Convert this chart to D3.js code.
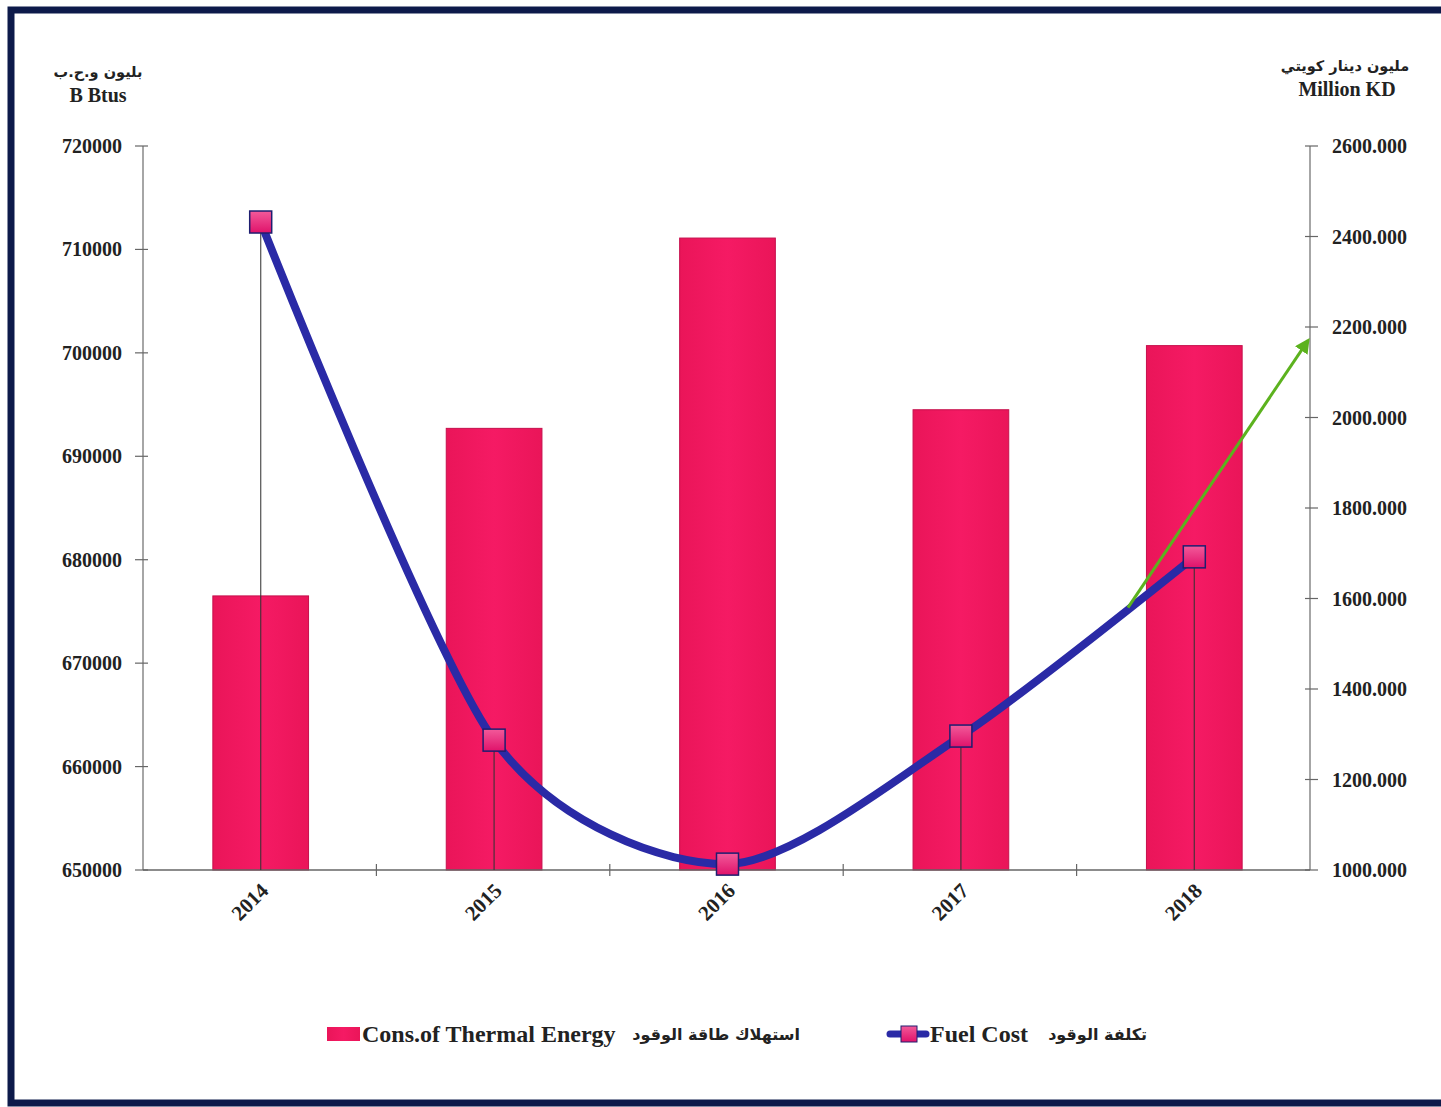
<!DOCTYPE html>
<html><head><meta charset="utf-8">
<script src="https://cdn.jsdelivr.net/npm/d3@7"></script>
<style>
html,body{margin:0;padding:0;background:#fff;}
svg{display:block;}
text{font-family:"Liberation Serif","Times New Roman",serif;font-weight:bold;fill:#222;}
.ar{font-family:"DejaVu Sans","Noto Sans",sans-serif;}
</style></head>
<body>
<script>
// ---- data ----
const years = ["2014","2015","2016","2017","2018"];
const thermalEnergy = [676500, 692700, 711100, 694500, 700700]; // B Btus (left axis)
const fuelCost = [2432, 1287, 1013, 1296, 1692];                // Million KD (right axis)
const leftTicks = [650000,660000,670000,680000,690000,700000,710000,720000];
const rightTicks = [1000,1200,1400,1600,1800,2000,2200,2400,2600];
const arrowStartValue = 1580, arrowEndValue = 2170; // trend arrow (right axis values)

const W = 1441, H = 1107;
const svg = d3.select("body").append("svg").attr("width", W).attr("height", H);

const defs = svg.append("defs");
const bg = defs.append("linearGradient").attr("id","barGrad").attr("x1",0).attr("x2",1).attr("y1",0).attr("y2",0);
bg.append("stop").attr("offset","0%").attr("stop-color","#ea1559");
bg.append("stop").attr("offset","50%").attr("stop-color","#f51a64");
bg.append("stop").attr("offset","100%").attr("stop-color","#ea1559");
const mg = defs.append("linearGradient").attr("id","mkGrad").attr("x1",0).attr("x2",0).attr("y1",0).attr("y2",1);
mg.append("stop").attr("offset","0%").attr("stop-color","#f25a9a");
mg.append("stop").attr("offset","100%").attr("stop-color","#e0126a");
defs.append("marker").attr("id","arrowHead").attr("viewBox","0 0 10 10").attr("refX",8).attr("refY",5)
  .attr("markerWidth",5).attr("markerHeight",5).attr("orient","auto")
  .append("path").attr("d","M0,0 L10,5 L0,10 z").attr("fill","#5cb21e");

// frame
svg.append("rect").attr("x",11).attr("y",10).attr("width",W+20).attr("height",1093)
  .attr("fill","#fff").attr("stroke","#0d1a4a").attr("stroke-width",7);

const L = 143, R = 1310, T = 146, B = 870;
const x = d3.scaleBand().domain(years).range([L, R]);
const yL = d3.scaleLinear().domain([650000, 720000]).range([B, T]);
const yR = d3.scaleLinear().domain([1000, 2600]).range([B, T]);

// axes lines
const axisColor = "#888";
svg.append("line").attr("x1",L).attr("x2",L).attr("y1",T).attr("y2",B).attr("stroke",axisColor).attr("stroke-width",1.5);
svg.append("line").attr("x1",R).attr("x2",R).attr("y1",T).attr("y2",B).attr("stroke",axisColor).attr("stroke-width",1.5);

// bars
const bw = x.bandwidth()*0.41;
svg.selectAll("rect.bar").data(years).join("rect").attr("class","bar")
  .attr("x", d => x(d) + x.bandwidth()/2 - bw/2 + 1)
  .attr("width", bw)
  .attr("y", (d,i) => yL(thermalEnergy[i]))
  .attr("height", (d,i) => B - yL(thermalEnergy[i]))
  .attr("fill","url(#barGrad)").attr("stroke","#c60f4c").attr("stroke-width",1);

// x axis line
svg.append("line").attr("x1",L).attr("x2",R).attr("y1",B).attr("y2",B).attr("stroke","#666").attr("stroke-width",1.5);
svg.selectAll("line.xt").data(years.slice(1)).join("line").attr("class","xt")
  .attr("x1", d => x(d)).attr("x2", d => x(d)).attr("y1", B-6).attr("y2", B+6)
  .attr("stroke","#666").attr("stroke-width",1.2);

// left ticks
svg.selectAll("line.lt").data(leftTicks).join("line").attr("class","lt")
  .attr("x1",L-8).attr("x2",L+5).attr("y1",d=>yL(d)).attr("y2",d=>yL(d)).attr("stroke","#666").attr("stroke-width",1.2);
svg.selectAll("text.ll").data(leftTicks).join("text").attr("class","ll")
  .attr("x",L-21).attr("y",d=>yL(d)).attr("dy","0.35em").attr("text-anchor","end")
  .attr("font-size",20).text(d=>d3.format("d")(d));
// right ticks
svg.selectAll("line.rt").data(rightTicks).join("line").attr("class","rt")
  .attr("x1",R-5).attr("x2",R+8).attr("y1",d=>yR(d)).attr("y2",d=>yR(d)).attr("stroke","#666").attr("stroke-width",1.2);
svg.selectAll("text.rl").data(rightTicks).join("text").attr("class","rl")
  .attr("x",R+22).attr("y",d=>yR(d)).attr("dy","0.35em").attr("text-anchor","start")
  .attr("font-size",20).text(d=>d3.format(".3f")(d));

// x labels
svg.selectAll("text.xl").data(years).join("text").attr("class","xl")
  .attr("transform", d => `translate(${x(d)+x.bandwidth()/2+10},${B+22}) rotate(-45)`)
  .attr("text-anchor","end").attr("font-size",21).attr("fill","#333").text(d=>d);

// drop lines
const cx = d => x(d) + x.bandwidth()/2 + 1;
svg.selectAll("line.drop").data(years).join("line").attr("class","drop")
  .attr("x1",cx).attr("x2",cx).attr("y1",(d,i)=>yR(fuelCost[i])).attr("y2",B)
  .attr("stroke","#333").attr("stroke-width",1.3).attr("stroke-opacity",0.8);

// line
const pts = years.map((d,i)=>[cx(d), yR(fuelCost[i])]);
svg.append("path").attr("d", d3.line().curve(d3.curveCardinal.tension(0.2))(pts))
  .attr("fill","none").attr("stroke","#2a2aa6").attr("stroke-width",8).attr("stroke-linecap","round");

// markers
const ms = 22;
svg.selectAll("rect.mk").data(pts).join("rect").attr("class","mk")
  .attr("x",d=>d[0]-ms/2).attr("y",d=>d[1]-ms/2).attr("width",ms).attr("height",ms)
  .attr("fill","url(#mkGrad)").attr("stroke","#1e1e70").attr("stroke-width",1.5);

// trend arrow
const ax1 = x("2018") + x.bandwidth()/2 - x.bandwidth()*0.28;
svg.append("line").attr("x1",ax1).attr("y1",yR(arrowStartValue)).attr("x2",R-2).attr("y2",yR(arrowEndValue))
  .attr("stroke","#5cb21e").attr("stroke-width",3).attr("marker-end","url(#arrowHead)");

// axis titles
svg.append("text").attr("class","ar").attr("x",98).attr("y",77).attr("text-anchor","middle").attr("font-size",14.5).text("بليون و.ح.ب");
svg.append("text").attr("x",98).attr("y",102).attr("text-anchor","middle").attr("font-size",20).text("B Btus");
svg.append("text").attr("class","ar").attr("x",1345).attr("y",71).attr("text-anchor","middle").attr("font-size",14.5).text("مليون دينار كويتي");
svg.append("text").attr("x",1347).attr("y",96).attr("text-anchor","middle").attr("font-size",20).text("Million KD");

// legend
const lg = svg.append("g");
lg.append("rect").attr("x",327).attr("y",1027).attr("width",33).attr("height",14).attr("fill","url(#barGrad)");
lg.append("text").attr("x",362).attr("y",1034).attr("dy","0.35em").attr("font-size",24).text("Cons.of Thermal Energy");
lg.append("text").attr("class","ar").attr("x",800).attr("y",1034).attr("dy","0.35em").attr("text-anchor","end").attr("font-size",16).text("استهلاك طاقة الوقود");
lg.append("line").attr("x1",890).attr("x2",926).attr("y1",1034).attr("y2",1034).attr("stroke","#2a2aa6").attr("stroke-width",7).attr("stroke-linecap","round");
lg.append("rect").attr("x",901).attr("y",1026).attr("width",16).attr("height",16).attr("fill","url(#mkGrad)").attr("stroke","#1e1e70");
lg.append("text").attr("x",930).attr("y",1034).attr("dy","0.35em").attr("font-size",24).text("Fuel Cost");
lg.append("text").attr("class","ar").attr("x",1147).attr("y",1034).attr("dy","0.35em").attr("text-anchor","end").attr("font-size",16).text("تكلفة الوقود");
</script>
</body></html>
